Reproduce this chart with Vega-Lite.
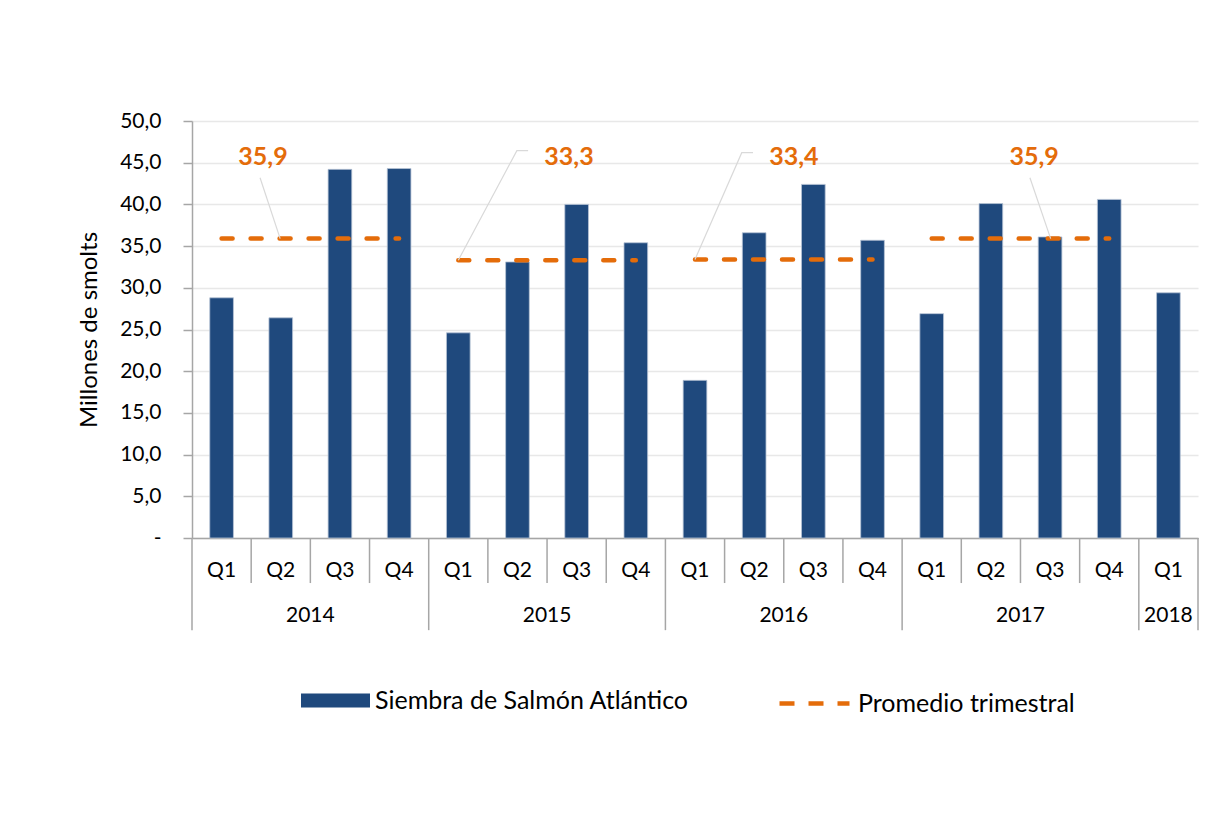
{
  "$schema": "https://vega.github.io/schema/vega-lite/v6.json",
  "width": 1006,
  "height": 417,
  "autosize": {"type": "none"},
  "padding": {"left": 192, "top": 121, "right": 20, "bottom": 277},
  "background": "white",
  "config": {
    "view": {"stroke": null},
    "font": "Lato",
    "axis": {"labelFont": "Lato", "titleFont": "Lato"},
    "legend": {"labelFont": "Lato"}
  },
  "datasets": {
    "q": [
      {"periodo": "2014 Q1", "anio": "2014", "siembra": 28.8},
      {"periodo": "2014 Q2", "anio": "2014", "siembra": 26.4},
      {"periodo": "2014 Q3", "anio": "2014", "siembra": 44.2},
      {"periodo": "2014 Q4", "anio": "2014", "siembra": 44.3},
      {"periodo": "2015 Q1", "anio": "2015", "siembra": 24.6},
      {"periodo": "2015 Q2", "anio": "2015", "siembra": 33.1},
      {"periodo": "2015 Q3", "anio": "2015", "siembra": 40.0},
      {"periodo": "2015 Q4", "anio": "2015", "siembra": 35.4},
      {"periodo": "2016 Q1", "anio": "2016", "siembra": 18.9},
      {"periodo": "2016 Q2", "anio": "2016", "siembra": 36.6},
      {"periodo": "2016 Q3", "anio": "2016", "siembra": 42.4},
      {"periodo": "2016 Q4", "anio": "2016", "siembra": 35.7},
      {"periodo": "2017 Q1", "anio": "2017", "siembra": 26.9},
      {"periodo": "2017 Q2", "anio": "2017", "siembra": 40.1},
      {"periodo": "2017 Q3", "anio": "2017", "siembra": 36.1},
      {"periodo": "2017 Q4", "anio": "2017", "siembra": 40.6},
      {"periodo": "2018 Q1", "anio": "2018", "siembra": 29.4}
    ],
    "prom": [
      {"anio": "2014", "desde": "2014 Q1", "hasta": "2014 Q4", "promedio": 35.9},
      {"anio": "2015", "desde": "2015 Q1", "hasta": "2015 Q4", "promedio": 33.3},
      {"anio": "2016", "desde": "2016 Q1", "hasta": "2016 Q4", "promedio": 33.4},
      {"anio": "2017", "desde": "2017 Q1", "hasta": "2017 Q4", "promedio": 35.9}
    ],
    "etiquetas": [
      {"anio": "2014", "pos": 1.2, "valor": 45.7, "texto": "35,9"},
      {"anio": "2015", "pos": 6.37, "valor": 45.7, "texto": "33,3"},
      {"anio": "2016", "pos": 10.17, "valor": 45.7, "texto": "33,4"},
      {"anio": "2017", "pos": 14.23, "valor": 45.7, "texto": "35,9"}
    ],
    "guias": [
      {"anio": "2014", "orden": 0, "pos": 1.15, "valor": 43.2},
      {"anio": "2014", "orden": 1, "pos": 1.49, "valor": 35.9},
      {"anio": "2015", "orden": 0, "pos": 5.68, "valor": 46.44},
      {"anio": "2015", "orden": 1, "pos": 5.49, "valor": 46.44},
      {"anio": "2015", "orden": 2, "pos": 4.5, "valor": 33.3},
      {"anio": "2016", "orden": 0, "pos": 9.48, "valor": 46.2},
      {"anio": "2016", "orden": 1, "pos": 9.29, "valor": 46.2},
      {"anio": "2016", "orden": 2, "pos": 8.5, "valor": 33.4},
      {"anio": "2017", "orden": 0, "pos": 14.16, "valor": 43.2},
      {"anio": "2017", "orden": 1, "pos": 14.51, "valor": 35.9}
    ],
    "separadores": [
      {"pos": 0}, {"pos": 4}, {"pos": 8}, {"pos": 12}, {"pos": 16}, {"pos": 17}
    ],
    "limites": [
      {"pos": 1}, {"pos": 2}, {"pos": 3}, {"pos": 5}, {"pos": 6}, {"pos": 7},
      {"pos": 9}, {"pos": 10}, {"pos": 11}, {"pos": 13}, {"pos": 14}, {"pos": 15}
    ],
    "anios": [
      {"anio": "2014", "centro": 2},
      {"anio": "2015", "centro": 6},
      {"anio": "2016", "centro": 10},
      {"anio": "2017", "centro": 14},
      {"anio": "2018", "centro": 16.5}
    ]
  },
  "layer": [
    {
      "layer": [
        {
          "data": {"name": "q"},
          "mark": {"type": "bar", "stroke": "#b8c4d6", "strokeWidth": 0.8},
          "encoding": {
            "x": {
              "field": "periodo",
              "type": "nominal",
              "sort": null,
              "scale": {
                "domain": ["2014 Q1", "2014 Q2", "2014 Q3", "2014 Q4", "2015 Q1", "2015 Q2", "2015 Q3", "2015 Q4", "2016 Q1", "2016 Q2", "2016 Q3", "2016 Q4", "2017 Q1", "2017 Q2", "2017 Q3", "2017 Q4", "2018 Q1"],
                "paddingInner": 0.6,
                "paddingOuter": 0.3
              },
              "axis": {
                "title": null,
                "labelExpr": "split(datum.label, ' ')[1]",
                "ticks": true,
                "tickSize": 45,
                "tickColor": "transparent",
                "domainColor": "#a6a6a6",
                "domainWidth": 1.5,
                "labelPadding": -13,
                "labelBaseline": "middle",
                "labelFontSize": 21,
                "labelColor": "#000000",
                "labelAngle": 0,
                "grid": false
              }
            },
            "y": {
              "field": "siembra",
              "type": "quantitative",
              "scale": {"domain": [0, 50], "nice": false},
              "title": "Millones de smolts",
              "axis": {
                "values": [0, 5, 10, 15, 20, 25, 30, 35, 40, 45, 50],
                "labelExpr": "datum.value == 0 ? '-' : replace(format(datum.value, '.1f'), '.', ',')",
                "tickSize": 9,
                "tickColor": "#a6a6a6",
                "tickWidth": 1.5,
                "domainColor": "#a6a6a6",
                "domainWidth": 1.5,
                "gridColor": "#e8e8e8",
                "gridWidth": 1.5,
                "labelFontSize": 21,
                "labelColor": "#000000",
                "labelPadding": 22,
                "titleFontSize": 24,
                "titleFontWeight": "normal",
                "titleColor": "#000000",
                "titlePadding": 18
              }
            },
            "fill": {
              "datum": "Siembra de Salmón Atlántico",
              "scale": {"range": ["#1f497d"]},
              "legend": {
                "orient": "none",
                "legendX": 109,
                "legendY": 545,
                "title": null,
                "labelFontSize": 25,
                "labelColor": "#000000",
                "labelLimit": 0,
                "symbolType": "M-1,-0.2H1V0.2H-1Z",
                "symbolSize": 4761,
                "symbolStrokeWidth": 0,
                "labelOffset": 5,
                "padding": 0
              }
            }
          }
        },
        {
          "data": {"name": "prom"},
          "mark": {"type": "rule", "strokeWidth": 4.5, "strokeDash": [11, 18], "strokeCap": "round"},
          "encoding": {
            "x": {"field": "desde", "type": "nominal", "sort": null},
            "x2": {"field": "hasta"},
            "y": {"field": "promedio", "type": "quantitative"},
            "stroke": {
              "datum": "Promedio trimestral",
              "scale": {"range": ["#e46c0a"]},
              "legend": {
                "orient": "none",
                "legendX": 585,
                "legendY": 545,
                "title": null,
                "labelFontSize": 25,
                "labelColor": "#000000",
                "labelLimit": 0,
                "symbolType": "stroke",
                "symbolSize": 4900,
                "symbolStrokeWidth": 4.5,
                "symbolDash": [15, 14],
                "labelOffset": 6,
                "padding": 0
              }
            }
          }
        }
      ]
    },
    {
      "layer": [
        {
          "data": {"name": "guias"},
          "mark": {"type": "line", "color": "#d9d9d9", "strokeWidth": 1.2},
          "encoding": {
            "x": {"field": "pos", "type": "quantitative", "scale": {"domain": [0, 17], "nice": false, "zero": false}, "axis": null},
            "y": {"field": "valor", "type": "quantitative", "scale": {"domain": [0, 50], "nice": false}},
            "detail": {"field": "anio"},
            "order": {"field": "orden"}
          }
        },
        {
          "data": {"name": "etiquetas"},
          "mark": {"type": "text", "font": "Lato", "fontSize": 25, "fontWeight": "bold", "color": "#e46c0a", "baseline": "middle", "align": "center"},
          "encoding": {
            "x": {"field": "pos", "type": "quantitative"},
            "y": {"field": "valor", "type": "quantitative"},
            "text": {"field": "texto"}
          }
        },
        {
          "data": {"name": "limites"},
          "mark": {"type": "rule", "color": "#a6a6a6", "strokeWidth": 1.5},
          "encoding": {
            "x": {"field": "pos", "type": "quantitative"},
            "y": {"datum": 0},
            "y2": {"datum": -5.4}
          }
        },
        {
          "data": {"name": "separadores"},
          "mark": {"type": "rule", "color": "#a6a6a6", "strokeWidth": 1.5},
          "encoding": {
            "x": {"field": "pos", "type": "quantitative"},
            "y": {"datum": 0},
            "y2": {"datum": -11.05}
          }
        },
        {
          "data": {"name": "anios"},
          "mark": {"type": "text", "font": "Lato", "fontSize": 21, "color": "#000000", "baseline": "middle", "align": "center"},
          "encoding": {
            "x": {"field": "centro", "type": "quantitative"},
            "y": {"datum": -9.3},
            "text": {"field": "anio"}
          }
        }
      ]
    }
  ],
  "resolve": {"scale": {"x": "independent"}}
}
